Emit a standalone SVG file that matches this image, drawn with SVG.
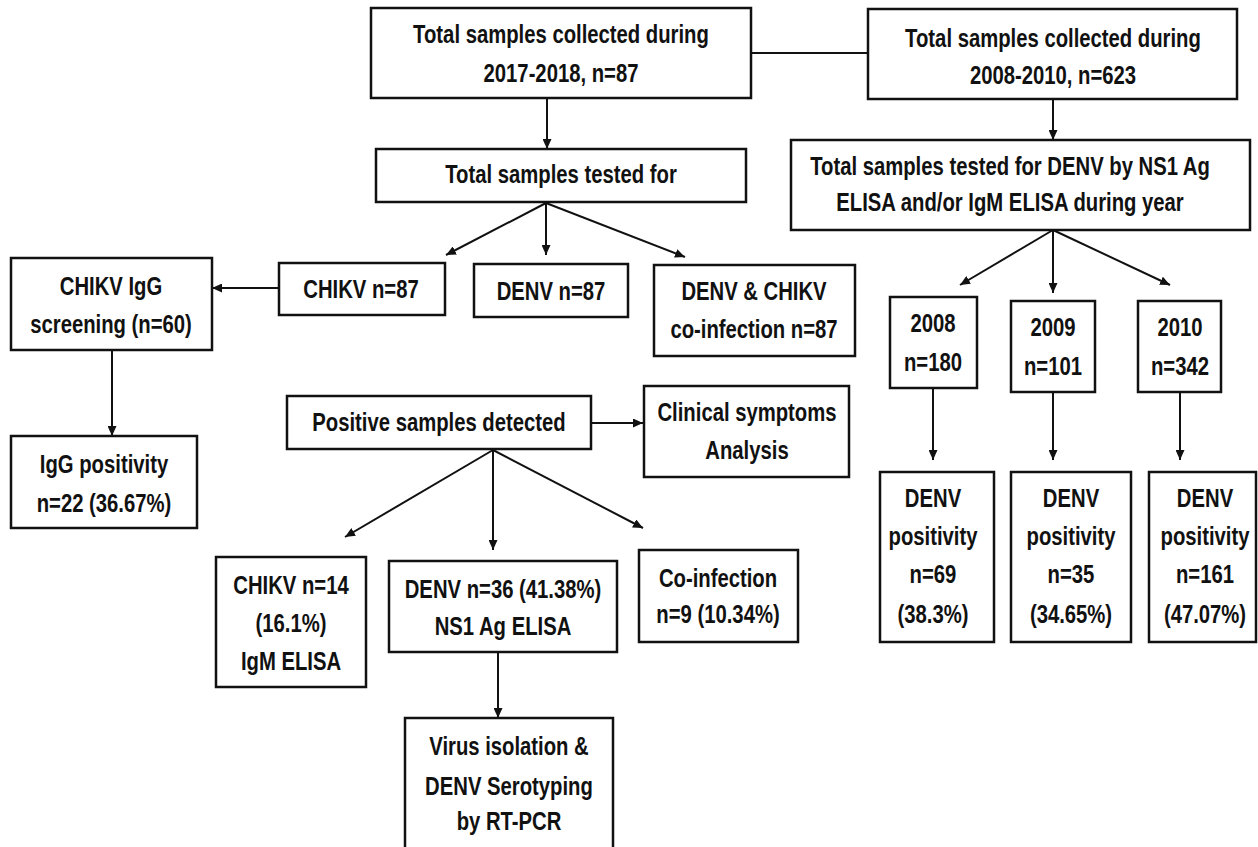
<svg xmlns="http://www.w3.org/2000/svg" width="1258" height="847" viewBox="0 0 1258 847">
<style>
rect{fill:#fff;stroke:#111;stroke-width:2.5}
text{font-family:"Liberation Sans",Arial,sans-serif;font-weight:bold;font-size:26px;text-anchor:middle;fill:#111}
.c line{stroke:#111;stroke-width:2}
.c line.a{marker-end:url(#ah)}
</style>
<defs>
<marker id="ah" markerUnits="userSpaceOnUse" markerWidth="10" markerHeight="9" refX="10" refY="4.5" orient="auto">
<path d="M0,0 L10,4.5 L0,9 z" fill="#111"/>
</marker>
</defs>
<rect x="0" y="0" width="1258" height="847" style="stroke:none;fill:#fff"/>
<g class="c" id="connectors">
<line x1="751" y1="53" x2="868" y2="53"/>
<line class="a" x1="547" y1="98" x2="547" y2="149"/>
<line class="a" x1="1053" y1="99" x2="1053" y2="140"/>
<line class="a" x1="546" y1="203" x2="446" y2="255"/>
<line class="a" x1="546" y1="203" x2="546" y2="255"/>
<line class="a" x1="546" y1="203" x2="685" y2="257"/>
<line class="a" x1="279" y1="288" x2="212" y2="288"/>
<line class="a" x1="112" y1="350" x2="112" y2="436"/>
<line class="a" x1="591" y1="423" x2="643" y2="423"/>
<line class="a" x1="493" y1="450" x2="345" y2="537"/>
<line class="a" x1="493" y1="450" x2="493" y2="550"/>
<line class="a" x1="493" y1="450" x2="643" y2="528"/>
<line class="a" x1="498" y1="652" x2="498" y2="718"/>
<line class="a" x1="1053" y1="230" x2="960" y2="285"/>
<line class="a" x1="1053" y1="230" x2="1053" y2="293"/>
<line class="a" x1="1053" y1="230" x2="1170" y2="285"/>
<line class="a" x1="933" y1="388" x2="933" y2="460"/>
<line class="a" x1="1053" y1="392" x2="1053" y2="460"/>
<line class="a" x1="1180" y1="392" x2="1180" y2="460"/>
</g>
<g id="n1"><rect x="371" y="8" width="380" height="90"/>
<g transform="translate(561,0) scale(0.78,1)"><text y="43">Total samples collected during</text><text y="82">2017-2018, n=87</text></g></g>
<g id="n2"><rect x="868" y="9" width="369" height="90"/>
<g transform="translate(1053,0) scale(0.78,1)"><text y="47">Total samples collected during</text><text y="84">2008-2010, n=623</text></g></g>
<g id="n3"><rect x="376" y="149" width="370" height="53"/>
<g transform="translate(561,0) scale(0.78,1)"><text y="183">Total samples tested for</text></g></g>
<g id="n4"><rect x="791" y="140" width="459" height="90"/>
<g transform="translate(1010,0) scale(0.78,1)"><text y="175">Total samples tested for DENV by NS1 Ag</text><text y="211">ELISA and/or IgM ELISA during year</text></g></g>
<g id="n5"><rect x="279" y="263" width="166" height="52"/>
<g transform="translate(361,0) scale(0.78,1)"><text y="298">CHIKV n=87</text></g></g>
<g id="n6"><rect x="474" y="264" width="154" height="53"/>
<g transform="translate(551,0) scale(0.78,1)"><text y="300">DENV n=87</text></g></g>
<g id="n7"><rect x="654" y="265" width="201" height="91"/>
<g transform="translate(754,0) scale(0.78,1)"><text y="300">DENV &amp; CHIKV</text><text y="338">co-infection n=87</text></g></g>
<g id="n8"><rect x="11" y="258" width="201" height="92"/>
<g transform="translate(111,0) scale(0.78,1)"><text y="295">CHIKV IgG</text><text y="333">screening (n=60)</text></g></g>
<g id="n9"><rect x="11" y="436" width="186" height="92"/>
<g transform="translate(104,0) scale(0.78,1)"><text y="473">IgG positivity</text><text y="512">n=22 (36.67%)</text></g></g>
<g id="n10"><rect x="287" y="396" width="304" height="53"/>
<g transform="translate(439,0) scale(0.78,1)"><text y="431">Positive samples detected</text></g></g>
<g id="n11"><rect x="644" y="386" width="205" height="91"/>
<g transform="translate(747,0) scale(0.78,1)"><text y="421">Clinical symptoms</text><text y="459">Analysis</text></g></g>
<g id="n12"><rect x="216" y="557" width="150" height="130"/>
<g transform="translate(291,0) scale(0.78,1)"><text y="594">CHIKV n=14</text><text y="632">(16.1%)</text><text y="670">IgM ELISA</text></g></g>
<g id="n13"><rect x="389" y="561" width="228" height="91"/>
<g transform="translate(503,0) scale(0.78,1)"><text y="598">DENV n=36 (41.38%)</text><text y="635">NS1 Ag ELISA</text></g></g>
<g id="n14"><rect x="639" y="550" width="159" height="92"/>
<g transform="translate(718,0) scale(0.78,1)"><text y="587">Co-infection</text><text y="623">n=9 (10.34%)</text></g></g>
<g id="n15"><rect x="405" y="718" width="208" height="140"/>
<g transform="translate(509,0) scale(0.78,1)"><text y="755">Virus isolation &amp;</text><text y="795">DENV Serotyping</text><text y="830">by RT-PCR</text></g></g>
<g id="n16"><rect x="890" y="297" width="87" height="91"/>
<g transform="translate(933,0) scale(0.78,1)"><text y="332">2008</text><text y="371">n=180</text></g></g>
<g id="n17"><rect x="1011" y="301" width="84" height="91"/>
<g transform="translate(1053,0) scale(0.78,1)"><text y="336">2009</text><text y="375">n=101</text></g></g>
<g id="n18"><rect x="1138" y="301" width="83" height="91"/>
<g transform="translate(1180,0) scale(0.78,1)"><text y="336">2010</text><text y="375">n=342</text></g></g>
<g id="n19"><rect x="880" y="472" width="114" height="170"/>
<g transform="translate(933,0) scale(0.78,1)"><text y="507">DENV</text><text y="545">positivity</text><text y="583">n=69</text><text y="623">(38.3%)</text></g></g>
<g id="n20"><rect x="1011" y="472" width="120" height="170"/>
<g transform="translate(1071,0) scale(0.78,1)"><text y="507">DENV</text><text y="545">positivity</text><text y="583">n=35</text><text y="623">(34.65%)</text></g></g>
<g id="n21"><rect x="1149" y="472" width="107" height="170"/>
<g transform="translate(1205,0) scale(0.78,1)"><text y="507">DENV</text><text y="545">positivity</text><text y="583">n=161</text><text y="623">(47.07%)</text></g></g>
</svg>
